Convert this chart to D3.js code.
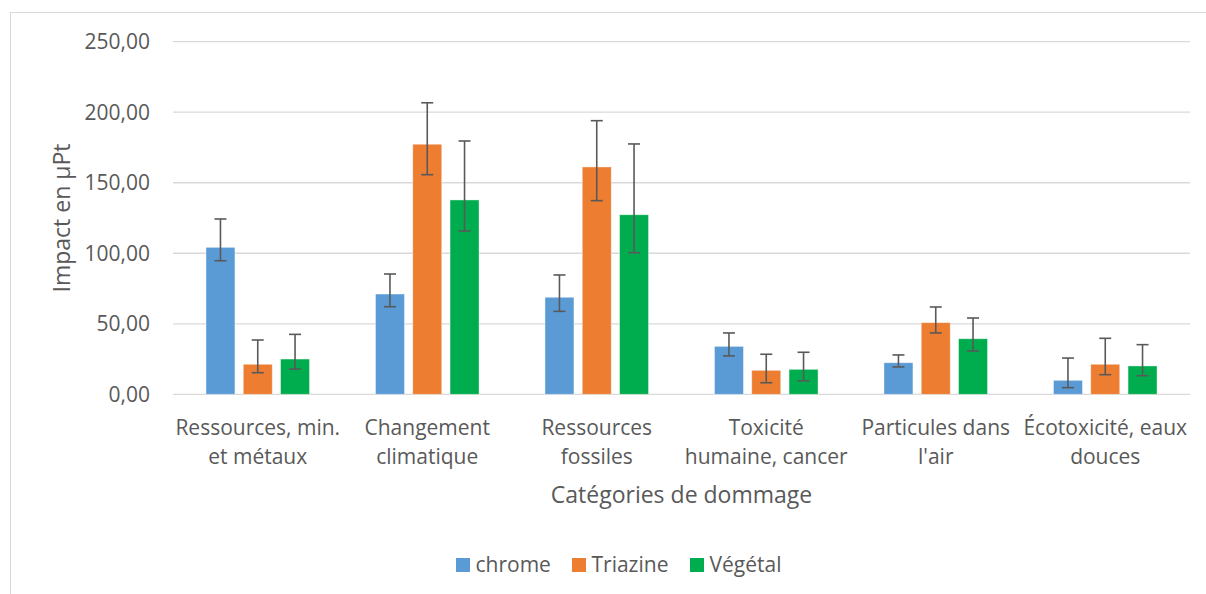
<!DOCTYPE html>
<html><head><meta charset="utf-8">
<script src="https://cdn.jsdelivr.net/npm/d3@7"></script>
<style>body{margin:0;background:#fff}svg{display:block}text{font-family:"Open Sans",sans-serif;fill:#595959}</style>
</head><body><svg id="c" width="1206" height="594"></svg>
<script>
const categories = [["Ressources, min.","et métaux"],["Changement","climatique"],["Ressources","fossiles"],["Toxicité","humaine, cancer"],["Particules dans","l'air"],["Écotoxicité, eaux","douces"]];
const seriesNames = ["chrome","Triazine","Végétal"];
const colors = ["#5b9bd5","#ed7d31","#00ad4e"];
const chromeVals = [104.2,71.1,68.8,34.0,22.4,9.9];
const triazineVals = [21.3,177.3,161.2,17.0,50.8,21.3];
const vegetalVals = [25.0,137.8,127.3,17.7,39.4,20.1];
const chromeHi = [124.3,85.3,84.6,43.5,27.9,25.7];
const chromeLo = [94.7,62.1,58.8,27.2,19.4,4.7];
const triazineHi = [38.5,206.7,194.0,28.4,61.9,39.7];
const triazineLo = [15.3,155.7,137.3,8.2,43.5,13.9];
const vegetalHi = [42.5,179.6,177.5,29.8,54.1,35.2];
const vegetalLo = [17.9,115.8,100.4,9.6,30.7,13.2];
const yTicks = [0,50,100,150,200,250];
const yTitle = "Impact en µPt";
const xTitle = "Catégories de dommage";

const series = [
  {name:seriesNames[0], vals:chromeVals, hi:chromeHi, lo:chromeLo},
  {name:seriesNames[1], vals:triazineVals, hi:triazineHi, lo:triazineLo},
  {name:seriesNames[2], vals:vegetalVals, hi:vegetalHi, lo:vegetalLo}
];
const svg = d3.select("#c");
svg.append("rect").attr("x",10.5).attr("y",12.5).attr("width",1400).attr("height",800)
  .attr("fill","none").attr("stroke","#d9d9d9").attr("stroke-width",1);

const L=173, R=1190, T=41.7, B=394.3;
const x = d3.scaleBand().domain(d3.range(categories.length)).range([L,R]);
const y = d3.scaleLinear().domain([0,250]).range([B,T]);
const fmt = v => d3.format(".2f")(v).replace(".",",");

// gridlines
svg.append("g").selectAll("line").data(yTicks).join("line")
  .attr("x1",L).attr("x2",R).attr("y1",d=>y(d)).attr("y2",d=>y(d))
  .attr("stroke","#d9d9d9").attr("stroke-width",1.3);
// y labels
svg.append("g").selectAll("text").data(yTicks).join("text")
  .attr("x",150).attr("y",d=>y(d)).attr("dy","0.36em").attr("text-anchor","end")
  .attr("font-size",21).text(fmt);

const step = x.bandwidth();
const bw = step*0.171, off = step*0.22;
series.forEach((s,si)=>{
  const g = svg.append("g");
  const cx = i => x(i)+step/2+(si-1)*off;
  g.selectAll("rect").data(s.vals).join("rect")
    .attr("x",(d,i)=>cx(i)-bw/2).attr("width",bw)
    .attr("y",d=>y(d)).attr("height",d=>B-y(d))
    .attr("fill",colors[si]).attr("stroke","#fff").attr("stroke-opacity",0.5).attr("stroke-width",0.8);
  const e = svg.append("g").attr("stroke","#595959").attr("stroke-width",1.6);
  s.vals.forEach((v,i)=>{
    e.append("line").attr("x1",cx(i)).attr("x2",cx(i)).attr("y1",y(s.hi[i])).attr("y2",y(s.lo[i]));
    e.append("line").attr("x1",cx(i)-6).attr("x2",cx(i)+6).attr("y1",y(s.hi[i])).attr("y2",y(s.hi[i]));
    e.append("line").attr("x1",cx(i)-6).attr("x2",cx(i)+6).attr("y1",y(s.lo[i])).attr("y2",y(s.lo[i]));
  });
});

// category labels
const cg = svg.append("g");
categories.forEach((c,i)=>{
  const t = cg.append("text").attr("x",x(i)+step/2).attr("y",435).attr("text-anchor","middle").attr("font-size",21);
  c.forEach((line,j)=>t.append("tspan").attr("x",x(i)+step/2).attr("y",435+j*28.5).text(line));
});
svg.append("text").attr("x",(L+R)/2).attr("y",503).attr("text-anchor","middle").attr("font-size",23).text(xTitle);
svg.append("text").attr("transform","translate(70,218) rotate(-90)").attr("text-anchor","middle").attr("font-size",23).text(yTitle);

// legend
const lg = svg.append("g");
const lx = [456,572,690];
series.forEach((s,si)=>{
  lg.append("rect").attr("x",lx[si]).attr("y",558).attr("width",14).attr("height",14).attr("fill",colors[si]);
  lg.append("text").attr("x",lx[si]+19.5).attr("y",572).attr("font-size",21).text(s.name);
});
</script></body></html>
